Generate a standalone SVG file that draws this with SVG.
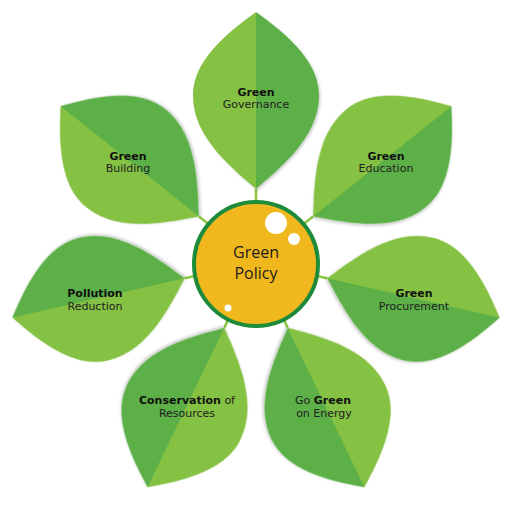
<svg xmlns="http://www.w3.org/2000/svg" xmlns:xlink="http://www.w3.org/1999/xlink" width="525" height="525" viewBox="0 0 525 525">
  <style>
    .light { fill: #85C142; }
    .dark { fill: #5CB047; }
    .stem { stroke: #8CC63F; stroke-width: 2.5; fill: none; }
    .lbl { font-family: "DejaVu Sans", "Liberation Sans", sans-serif; font-size: 11px; fill: #222; text-anchor: middle; }
    .b { font-weight: bold; fill: #111; }
    .center { font-family: "Open Sans", "Liberation Sans", sans-serif; font-size: 16px; fill: #1a1a1a; text-anchor: middle; }
  </style>
  <defs>
    <filter id="sh" x="-20%" y="-20%" width="140%" height="140%">
      <feDropShadow dx="1.5" dy="1.5" stdDeviation="1" flood-color="#000" flood-opacity="0.2"/>
    </filter>
    <g id="leaf">
      <line class="stem" x1="0" y1="0" x2="0" y2="13"/>
      <g filter="url(#sh)">
        <path class="light" d="M0,0 C-20,-18 -63,-50 -63,-93 C-63,-120 -45,-145 0,-177 Z"/>
        <path class="dark" d="M0,0 C20,-18 63,-50 63,-93 C63,-120 45,-145 0,-177 Z"/>
      </g>
    </g>
  </defs>

  <g id="leaf-governance">
    <use xlink:href="#leaf" href="#leaf" transform="translate(256,189) rotate(0)"/>
    <text class="lbl" x="256" y="96"><tspan class="b">Green</tspan></text>
    <text class="lbl" x="256" y="108">Governance</text>
  </g>
  <g id="leaf-education">
    <use xlink:href="#leaf" href="#leaf" transform="translate(313.07,216.48) rotate(51.43)"/>
    <text class="lbl" x="386" y="160"><tspan class="b">Green</tspan></text>
    <text class="lbl" x="386" y="172">Education</text>
  </g>
  <g id="leaf-procurement">
    <use xlink:href="#leaf" href="#leaf" transform="translate(327.17,278.25) rotate(102.86)"/>
    <text class="lbl" x="414" y="297"><tspan class="b">Green</tspan></text>
    <text class="lbl" x="414" y="310">Procurement</text>
  </g>
  <g id="leaf-energy">
    <use xlink:href="#leaf" href="#leaf" transform="translate(287.67,327.77) rotate(154.29)"/>
    <text class="lbl" x="323" y="404">Go <tspan class="b">Green</tspan></text>
    <text class="lbl" x="324" y="417">on Energy</text>
  </g>
  <g id="leaf-conservation">
    <use xlink:href="#leaf" href="#leaf" transform="translate(224.33,327.77) rotate(205.71)"/>
    <text class="lbl" x="187" y="404"><tspan class="b">Conservation</tspan> of</text>
    <text class="lbl" x="187" y="417">Resources</text>
  </g>
  <g id="leaf-pollution">
    <use xlink:href="#leaf" href="#leaf" transform="translate(184.83,278.25) rotate(257.14)"/>
    <text class="lbl" x="95" y="297"><tspan class="b">Pollution</tspan></text>
    <text class="lbl" x="95" y="310">Reduction</text>
  </g>
  <g id="leaf-building">
    <use xlink:href="#leaf" href="#leaf" transform="translate(198.93,216.48) rotate(308.57)"/>
    <text class="lbl" x="128" y="160"><tspan class="b">Green</tspan></text>
    <text class="lbl" x="128" y="172">Building</text>
  </g>

  <g id="center-policy">
    <circle cx="256" cy="264" r="62" fill="#F1B81D" stroke="#1E8B3B" stroke-width="4"/>
    <circle cx="276" cy="223" r="11" fill="#fff"/>
    <circle cx="294" cy="239" r="6" fill="#fff"/>
    <circle cx="228" cy="308" r="3.5" fill="#fff"/>
    <text class="center" x="256" y="258">Green</text>
    <text class="center" x="256" y="279">Policy</text>
  </g>
</svg>
